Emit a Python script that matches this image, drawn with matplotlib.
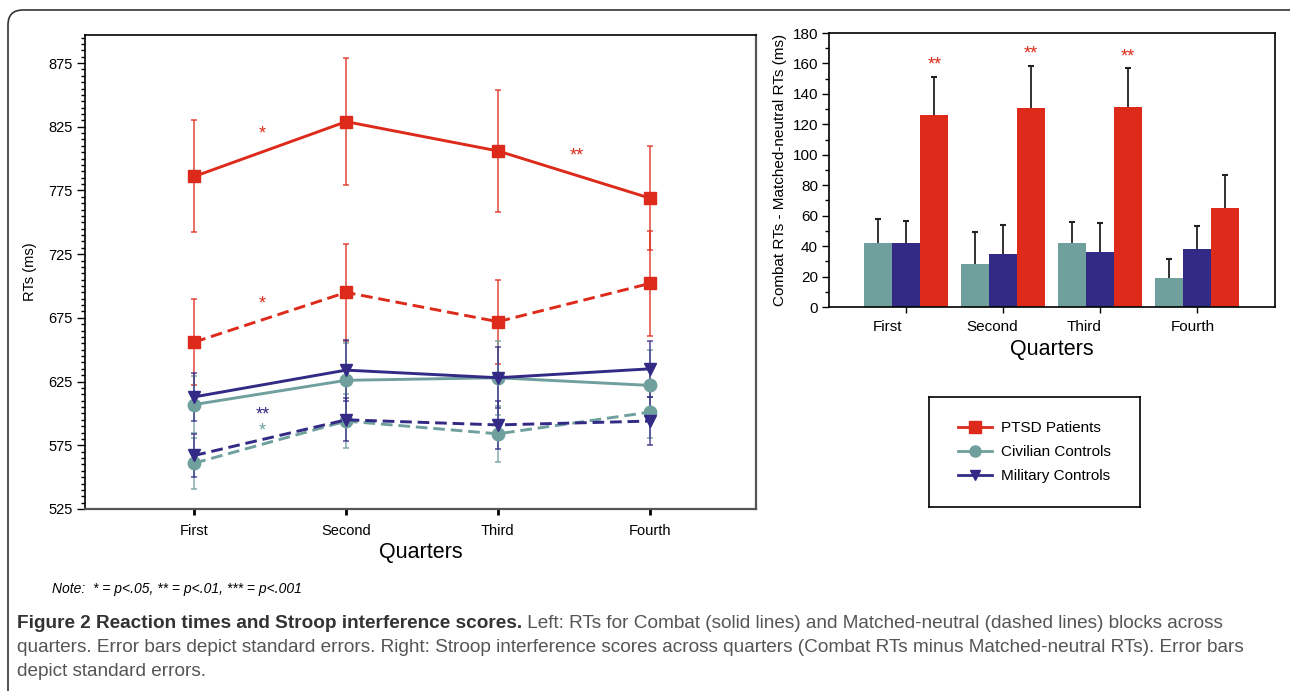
import numpy as np
import matplotlib
matplotlib.use("Agg")
import matplotlib.pyplot as plt
from matplotlib.lines import Line2D
from matplotlib.patches import FancyBboxPatch
from matplotlib.ticker import MultipleLocator

plt.rcParams['font.family'] = ['Liberation Sans', 'DejaVu Sans']

quarters = ["First", "Second", "Third", "Fourth"]

# left panel: mean RTs (ms) and standard errors
ptsd_combat = [786, 829, 806, 769]
ptsd_combat_se = [44, 50, 48, 41]
ptsd_neutral = [656, 695, 672, 702]
ptsd_neutral_se = [34, 38, 33, 41]
civ_combat = [607, 626, 628, 622]
civ_combat_se = [22, 29, 29, 28]
civ_neutral = [561, 594, 584, 601]
civ_neutral_se = [20, 21, 22, 20]
mil_combat = [613, 634, 628, 635]
mil_combat_se = [19, 24, 24, 22]
mil_neutral = [567, 595, 591, 594]
mil_neutral_se = [17, 17, 19, 19]

# right panel: interference scores (ms)
civ_diff = [42, 28, 42, 19]
civ_diff_se = [16, 21, 14, 12.5]
mil_diff = [42, 35, 36, 38]
mil_diff_se = [14.5, 19, 19, 15.5]
ptsd_diff = [126, 131, 131.5, 65]
ptsd_diff_se = [25, 27, 25.5, 22]

red = "#dd2a1a"
teal = "#6fa09e"
navy = "#332a85"

W, H = 1290, 691
fig = plt.figure(figsize=(W / 100, H / 100), dpi=100)

# ---------------- left panel ----------------
ax = fig.add_axes([85 / W, 1 - 509 / H, 671 / W, 474 / H])
x = np.arange(1, 5)

def draw(y, se, color, marker, ms, ls):
    ax.errorbar(x, y, yerr=se, color=color, lw=0, elinewidth=1.1, capsize=2.3,
                capthick=1.1, alpha=0.85, zorder=2)
    ax.plot(x, y, color=color, marker=marker, ms=ms, lw=2.1, ls=ls, zorder=3,
            dashes=(4, 2) if ls == "--" else (None, None))

draw(ptsd_combat, ptsd_combat_se, red, "s", 8.5, "-")
draw(ptsd_neutral, ptsd_neutral_se, red, "s", 8.5, "--")
draw(civ_combat, civ_combat_se, teal, "o", 9, "-")
draw(civ_neutral, civ_neutral_se, teal, "o", 9, "--")
draw(mil_combat, mil_combat_se, navy, "v", 8.5, "-")
draw(mil_neutral, mil_neutral_se, navy, "v", 8.5, "--")

ax.set_xlim(0.28, 4.70)
ax.set_ylim(525, 897)
ax.set_yticks(np.arange(525, 876, 50))
ax.yaxis.set_minor_locator(MultipleLocator(5))
ax.set_xticks(x)
ax.set_xticklabels(quarters, fontsize=10.5)
ax.tick_params(axis="y", which="major", direction="out", length=6, width=1, labelsize=10.5, pad=3)
ax.tick_params(axis="y", which="minor", direction="out", length=3, width=1)
ax.tick_params(axis="x", direction="out", length=4, width=2, pad=7)
ax.spines["bottom"].set_color("#555555")
ax.spines["bottom"].set_linewidth(1.6)
ax.spines["right"].set_color("#555555")
ax.spines["right"].set_linewidth(1.6)
ax.spines["left"].set_linewidth(1.2)
ax.spines["top"].set_linewidth(1.2)
ax.set_xlabel("Quarters", fontsize=15.5, labelpad=3)
ax.set_ylabel("RTs (ms)", fontsize=10.5, labelpad=8)

ax.text(1.45, 819, "*", color=red, fontsize=13, ha="center", va="center")
ax.text(3.52, 802, "**", color=red, fontsize=13, ha="center", va="center")
ax.text(1.45, 686, "*", color=red, fontsize=13, ha="center", va="center")
ax.text(1.45, 599, "**", color=navy, fontsize=13, ha="center", va="center")
ax.text(1.45, 586, "*", color=teal, fontsize=13, ha="center", va="center")

# ---------------- right panel ----------------
ax2 = fig.add_axes([829 / W, 1 - 307 / H, 446 / W, 274 / H])
g = np.arange(4)
bw = 0.29
for off, vals, se, col in [(-bw, civ_diff, civ_diff_se, teal),
                           (0, mil_diff, mil_diff_se, navy),
                           (bw, ptsd_diff, ptsd_diff_se, red)]:
    vals = np.array(vals)
    tops = vals + np.array(se)
    ax2.bar(g + off, vals, bw, color=col, zorder=2)
    ax2.vlines(g + off, vals, tops, color="#222222", lw=1.3, zorder=1)
    ax2.plot(g + off, tops, ls="none", marker="_", ms=5, mew=1.5, color="#222222", zorder=1)
for i, h in zip([0, 1, 2], [159, 166, 164.5]):
    ax2.text(i + bw, h, "**", color=red, fontsize=13, ha="center", va="center")

ax2.set_xlim(-0.80, 3.81)
ax2.set_ylim(0, 180)
ax2.set_yticks(np.arange(0, 181, 20))
ax2.yaxis.set_minor_locator(MultipleLocator(10))
ax2.set_xticks(g)
ax2.set_xticklabels([])
ax2.set_xticks(g + np.array([-0.2, -0.11, -0.16, -0.04]), minor=True)
ax2.set_xticklabels(quarters, minor=True, fontsize=11)
ax2.tick_params(axis="x", which="minor", length=0, pad=9)
ax2.tick_params(axis="x", which="major", direction="out", length=4, width=1)
ax2.tick_params(axis="y", which="major", direction="out", length=5, width=1, labelsize=11, pad=3)
ax2.tick_params(axis="y", which="minor", direction="out", length=3, width=1)
for s in ax2.spines.values():
    s.set_linewidth(1.2)
ax2.set_xlabel("Quarters", fontsize=15.5, labelpad=4)
ax2.set_ylabel("Combat RTs - Matched-neutral RTs (ms)", fontsize=11, labelpad=4)

# legend box
lax = fig.add_axes([929 / W, 1 - 507 / H, 211 / W, 110 / H])
lax.set_xticks([])
lax.set_yticks([])
for s in lax.spines.values():
    s.set_linewidth(1.2)
handles = [
    Line2D([], [], color=red, marker="s", ms=8, lw=2),
    Line2D([], [], color=teal, marker="o", ms=8, lw=2),
    Line2D([], [], color=navy, marker="v", ms=7, lw=2),
]
lax.legend(handles, ["PTSD Patients", "Civilian Controls", "Military Controls"],
           loc="center", frameon=False, fontsize=11, handlelength=2.2,
           handletextpad=0.6, labelspacing=0.65)

# ---------------- notes and caption ----------------
fig.text(52 / W, 1 - 589 / H, "Note:  * = p<.05, ** = p<.01, *** = p<.001",
         fontsize=10, style="italic", va="center")

cap_font = ["Liberation Sans Narrow", "Liberation Sans", "DejaVu Sans"]
bold_part = "Figure 2 Reaction times and Stroop interference scores."
line1 = " Left: RTs for Combat (solid lines) and Matched-neutral (dashed lines) blocks across"
line2 = ("quarters. Error bars depict standard errors. Right: Stroop interference scores across "
         "quarters (Combat RTs minus Matched-neutral RTs). Error bars")
line3 = "depict standard errors."

t_b = fig.text(17 / W, 1 - 623 / H, bold_part, family=cap_font, fontweight="bold",
               color="#333333", va="center", fontsize=12)
t_1 = fig.text(0, 1 - 623 / H, line1, family=cap_font, color="#555555", va="center", fontsize=12)
t_2 = fig.text(17 / W, 1 - 648 / H, line2, family=cap_font, color="#555555", va="center", fontsize=12)
t_3 = fig.text(17 / W, 1 - 672 / H, line3, family=cap_font, color="#555555", va="center", fontsize=12)

r = fig.canvas.get_renderer()
fs = 12 * 1234 / t_2.get_window_extent(r).width
for t in (t_b, t_1, t_2, t_3):
    t.set_fontsize(fs)
bx = t_b.get_window_extent(r)
t_1.set_x(bx.x1 / W)

# outer rounded frame
fig.add_artist(FancyBboxPatch((0.08, -0.4), 13.0, 7.21, boxstyle="round,pad=0,rounding_size=0.15",
                              transform=fig.dpi_scale_trans, fill=False, ec="#333333", lw=1.2))

fig.savefig("out.png", dpi=100)
